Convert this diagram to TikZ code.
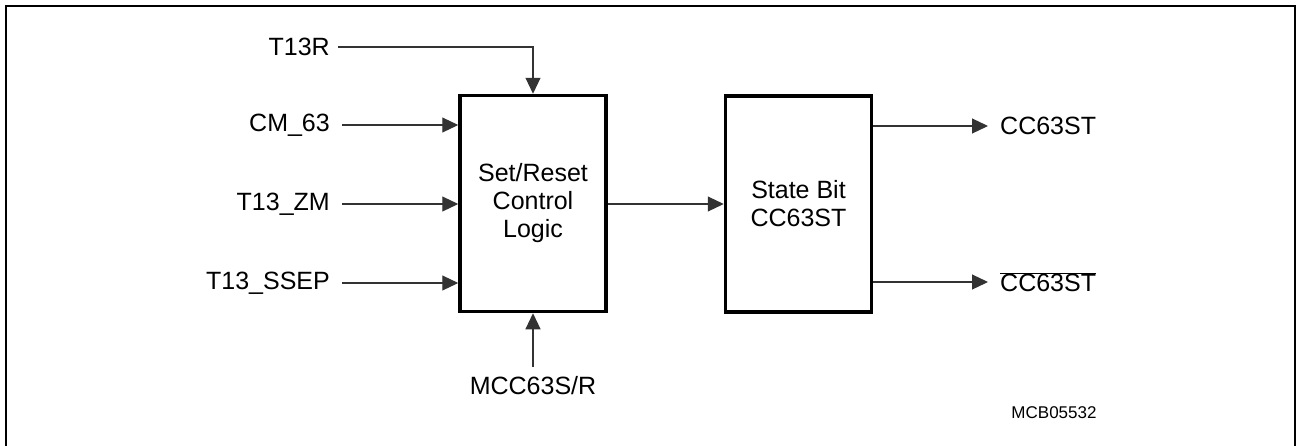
\documentclass[tikz,border=0pt]{standalone}
\usepackage{fontspec}
\setmainfont{Liberation Sans}
\usetikzlibrary{arrows.meta}
\begin{document}
\begin{tikzpicture}[x=1pt,y=-1pt,
  blockbox/.style={draw,line width=3.5pt,minimum width=146pt,minimum height=216pt,inner sep=0pt,font=\fontsize{25}{28}\selectfont,align=center},
  sig/.style={font=\fontsize{25}{28}\selectfont,inner sep=0pt},
  wire/.style={draw=black!80,line width=1.1pt,-{Triangle[length=16pt,width=15pt]}}]
\useasboundingbox (0,0) rectangle (1296,445);
\draw[line width=2pt] (5.5,446) -- (5.5,5.5) -- (1294.5,5.5) -- (1294.5,446);
\node[blockbox] (srl) at (533,203.5) {Set/Reset\\Control\\Logic};
\node[blockbox] (sb) at (798.5,204) {State Bit\\CC63ST};
% inputs
\node[sig,anchor=east] (t13r) at (330,47) {T13R};
\node[sig,anchor=east] (cm) at (330,125) {CM\_63};
\node[sig,anchor=east] (zm) at (330,204) {T13\_ZM};
\node[sig,anchor=east] (ssep) at (330,283) {T13\_SSEP};
\node[sig] (mcc) at (533,386) {MCC63S/R};
\coordinate (t13rc) at (533,47);
\draw[wire] ([xshift=8pt]t13r.east) -- (t13rc) -- (srl.north);
\draw[wire] ([xshift=12pt]cm.east) -- (cm.east -| srl.west);
\draw[wire] ([xshift=12pt]zm.east) -- (zm.east -| srl.west);
\draw[wire] ([xshift=12pt]ssep.east) -- (ssep.east -| srl.west);
\draw[wire] (533,367) -- (srl.south);
% middle
\draw[wire] (srl.east |- 0,204) -- (sb.west |- 0,204);
% outputs
\node[sig,anchor=west] (q) at (1000,126) {CC63ST};
\node[sig,anchor=west] (qn) at (1000,282) {$\overline{\hbox{CC63ST}}$};
\draw[wire] (sb.east |- q.west) -- ([xshift=-12pt]q.west);
\draw[wire] (sb.east |- qn.west) -- ([xshift=-12pt]qn.west);
\node[font=\fontsize{17}{20}\selectfont,inner sep=0pt] (id) at (1054,413) {MCB05532};
\end{tikzpicture}
\end{document}
